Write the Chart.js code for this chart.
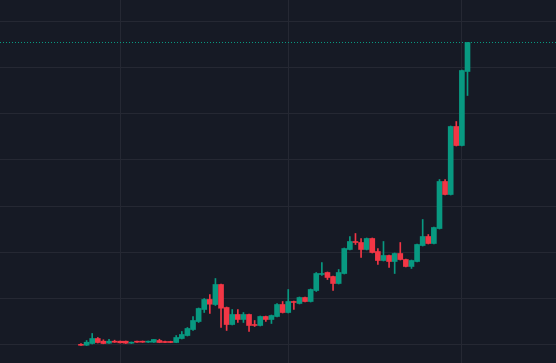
<!DOCTYPE html>
<html>
<head>
<meta charset="utf-8">
<script src="https://cdn.jsdelivr.net/npm/chart.js@4/dist/chart.umd.min.js"></script>
<style>
  html, body { margin: 0; padding: 0; background: #161a25; }
  #box { width: 556px; height: 363px; }
</style>
</head>
<body>
<div id="box"><canvas id="grafico"></canvas></div>
<script>
// === DAILY CANDLES (OPEN / HIGH / LOW / CLOSE) ===
const opens = [
  10.06, 9.91, 10.28, 11.36, 10.78, 10.35, 10.78, 10.78, 10.78, 10.35,
  10.78, 10.78, 10.56, 10.56, 10.93, 10.71, 10.71, 10.50, 11.36, 12.01,
  13.31, 15.04, 17.64, 19.81, 18.72, 23.05, 18.07, 14.39, 16.56, 15.48,
  16.56, 14.39, 14.18, 16.13, 15.48, 16.13, 18.72, 16.99, 19.37, 18.94,
  20.24, 19.37, 21.75, 25.22, 25.65, 24.78, 23.27, 25.43, 30.63, 32.36,
  32.14, 30.63, 33.01, 30.19, 28.25, 29.33, 28.03, 29.76, 28.46, 26.95,
  28.03, 31.49, 33.44, 31.93, 35.17, 45.35, 42.53, 57.25, 53.14, 69.16
];
const highs = [
  10.28, 10.93, 12.45, 11.58, 11.08, 11.21, 11.00, 10.82, 10.82, 10.61,
  10.82, 10.82, 10.82, 11.15, 11.21, 10.78, 10.78, 12.01, 12.88, 13.74,
  16.13, 17.97, 20.02, 20.89, 24.35, 23.16, 18.18, 17.64, 17.64, 16.99,
  16.67, 15.26, 16.23, 16.23, 16.45, 18.94, 19.37, 21.97, 19.48, 20.35,
  20.35, 22.08, 25.65, 27.81, 25.76, 24.89, 26.30, 30.95, 33.44, 34.09,
  33.01, 33.12, 33.12, 30.84, 32.36, 29.44, 29.87, 32.14, 28.57, 28.35,
  31.82, 37.12, 33.87, 35.50, 45.78, 45.78, 57.36, 58.33, 69.48, 75.43
];
const lows = [
  9.85, 9.85, 10.17, 10.39, 10.22, 10.28, 10.50, 10.39, 10.28, 10.28,
  10.52, 10.52, 10.50, 10.50, 10.45, 10.45, 10.45, 10.45, 11.26, 11.90,
  13.10, 14.83, 16.99, 16.77, 18.51, 13.74, 13.10, 14.29, 14.83, 14.83,
  12.88, 13.96, 14.07, 15.04, 14.61, 16.02, 16.88, 16.88, 17.64, 18.83,
  19.26, 19.26, 21.54, 25.00, 24.13, 21.75, 23.16, 25.32, 30.52, 31.71,
  28.90, 30.52, 29.87, 27.38, 28.14, 26.73, 25.43, 28.35, 26.84, 26.52,
  27.92, 31.38, 31.82, 31.82, 35.06, 42.42, 42.42, 53.03, 53.03, 63.96
];
const closes = [
  9.89, 10.56, 11.36, 10.50, 10.28, 10.78, 10.56, 10.43, 10.35, 10.56,
  10.56, 10.56, 10.78, 11.15, 10.50, 10.50, 10.50, 11.58, 12.23, 13.53,
  15.26, 17.86, 19.81, 18.79, 23.05, 17.92, 14.39, 16.56, 15.48, 16.56,
  14.18, 14.18, 16.13, 15.48, 16.34, 18.72, 16.99, 19.37, 19.16, 20.24,
  19.37, 21.97, 25.43, 25.43, 24.57, 23.27, 25.65, 30.84, 32.36, 32.14,
  30.63, 33.01, 29.98, 28.25, 29.33, 28.03, 29.76, 28.46, 26.95, 28.25,
  31.71, 33.44, 31.93, 35.39, 45.35, 42.53, 57.25, 53.14, 69.37, 75.43
];

// vertical grid lines fall on these candles (month starts)
const gridDays = [7, 37, 68];
// horizontal price levels
const gridLevels = [10, 20, 30, 40, 50, 60, 70, 80];

const VERDE = '#089981';
const VERMELHO = '#f23645';
const GRADE = '#252833';

// === BUILD THE BAR DATA ===
const corpos = opens.map((o, i) => ({ x: i, y: [Math.min(o, closes[i]), Math.max(o, closes[i])] }));
const pavios = opens.map((o, i) => ({ x: i, y: [lows[i], highs[i]] }));
const cores = opens.map((o, i) => closes[i] >= o ? VERDE : VERMELHO);
const ultimo = closes[closes.length - 1];

const xMin = -14.46, xMax = 84.8;
const yMin = 6.06, yMax = 84.63;

const ctx = document.getElementById('grafico');

new Chart(ctx, {
  type: 'bar',
  data: {
    datasets: [
      {
        // last price line
        type: 'line',
        data: [{ x: xMin, y: ultimo }, { x: xMax, y: ultimo }],
        borderColor: VERDE,
        borderWidth: 1,
        borderDash: [1, 2],
        pointRadius: 0,
        order: 0
      },
      {
        data: corpos,
        backgroundColor: cores,
        barThickness: 5,
        minBarLength: 1,
        grouped: false,
        order: 1
      },
      {
        data: pavios,
        backgroundColor: cores,
        barThickness: 1,
        grouped: false,
        order: 2
      }
    ]
  },
  options: {
    responsive: true,
    maintainAspectRatio: false,
    animation: false,
    layout: { padding: 0 },
    plugins: {
      legend: { display: false },
      tooltip: { enabled: false }
    },
    scales: {
      x: {
        type: 'linear',
        min: xMin,
        max: xMax,
        offset: false,
        grid: { color: GRADE, drawTicks: false, offset: false },
        border: { display: false },
        ticks: { display: false },
        afterBuildTicks: (s) => { s.ticks = gridDays.map(v => ({ value: v })); }
      },
      y: {
        min: yMin,
        max: yMax,
        grid: { color: GRADE, drawTicks: false },
        border: { display: false },
        ticks: { display: false },
        afterBuildTicks: (s) => { s.ticks = gridLevels.map(v => ({ value: v })); }
      }
    }
  }
});
</script>
</body>
</html>
